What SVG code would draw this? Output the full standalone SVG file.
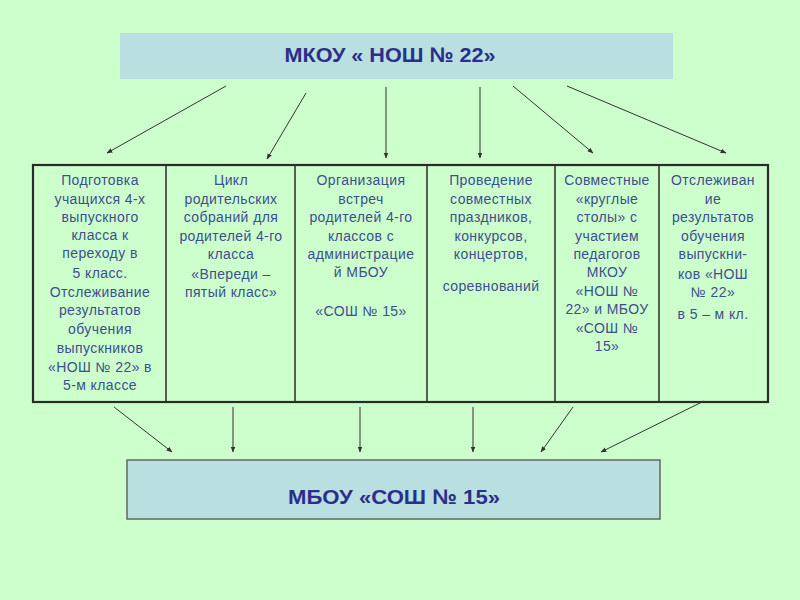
<svg xmlns="http://www.w3.org/2000/svg" width="800" height="600" viewBox="0 0 800 600">
<defs>
<marker id="ah" viewBox="0 0 10 10" refX="9" refY="5" markerWidth="6" markerHeight="6" orient="auto" markerUnits="userSpaceOnUse">
<path d="M0,1 L10,5 L0,9 z" fill="#333"/>
</marker>
<style>
.box{fill:#b9dfe0;}
.title{font-family:"Liberation Sans",Arial,sans-serif;font-weight:bold;font-size:21px;fill:#2b2f8c;text-anchor:middle;}
.cell{font-family:"Liberation Sans",Arial,sans-serif;font-size:14px;letter-spacing:0.4px;fill:#3d4e8e;text-anchor:middle;}
.conn line{stroke:#333;stroke-width:1;marker-end:url(#ah);}
.grid{stroke:#2a2a2a;fill:none;}
</style>
</defs>
<rect width="800" height="600" fill="#ccffcc"/>

<g id="top">
<rect class="box" x="120" y="33" width="553" height="46"/>
<text class="title" x="390" y="62" textLength="211" lengthAdjust="spacingAndGlyphs">МКОУ « НОШ № 22»</text>
</g>

<g id="bottom">
<rect class="box" x="127" y="460" width="533" height="59" stroke="#666" stroke-width="1.5"/>
<text class="title" x="394" y="504" textLength="212" lengthAdjust="spacingAndGlyphs">МБОУ «СОШ № 15»</text>
</g>

<g id="table">
<rect class="grid" x="33" y="165" width="735" height="237" stroke-width="2.2"/>
<line class="grid" x1="166" y1="165" x2="166" y2="402" stroke-width="1.5"/>
<line class="grid" x1="295" y1="165" x2="295" y2="402" stroke-width="1.5"/>
<line class="grid" x1="427" y1="165" x2="427" y2="402" stroke-width="1.5"/>
<line class="grid" x1="555" y1="165" x2="555" y2="402" stroke-width="1.5"/>
<line class="grid" x1="659" y1="165" x2="659" y2="402" stroke-width="1.5"/>
</g>

<g id="cell1">
<text class="cell" x="100" y="185">Подготовка</text>
<text class="cell" x="100" y="204">учащихся 4-х</text>
<text class="cell" x="100" y="222">выпускного</text>
<text class="cell" x="100" y="240">класса к</text>
<text class="cell" x="100" y="258">переходу в</text>
<text class="cell" x="100" y="278">5 класс.</text>
<text class="cell" x="100" y="297">Отслеживание</text>
<text class="cell" x="100" y="315">результатов</text>
<text class="cell" x="100" y="334">обучения</text>
<text class="cell" x="100" y="353">выпускников</text>
<text class="cell" x="100" y="372">«НОШ № 22» в</text>
<text class="cell" x="100" y="390">5-м классе</text>
</g>

<g id="cell2">
<text class="cell" x="231" y="185">Цикл</text>
<text class="cell" x="231" y="204">родительских</text>
<text class="cell" x="231" y="222">собраний для</text>
<text class="cell" x="231" y="241">родителей 4-го</text>
<text class="cell" x="231" y="259">класса</text>
<text class="cell" x="231" y="279">«Впереди –</text>
<text class="cell" x="231" y="297">пятый класс»</text>
</g>

<g id="cell3">
<text class="cell" x="361" y="185">Организация</text>
<text class="cell" x="361" y="204">встреч</text>
<text class="cell" x="361" y="222">родителей 4-го</text>
<text class="cell" x="361" y="241">классов с</text>
<text class="cell" x="361" y="259">администрацие</text>
<text class="cell" x="361" y="277">й МБОУ</text>
<text class="cell" x="361" y="316">«СОШ № 15»</text>
</g>

<g id="cell4">
<text class="cell" x="491" y="185">Проведение</text>
<text class="cell" x="491" y="204">совместных</text>
<text class="cell" x="491" y="222">праздников,</text>
<text class="cell" x="491" y="241">конкурсов,</text>
<text class="cell" x="491" y="259">концертов,</text>
<text class="cell" x="491" y="291">соревнований</text>
</g>

<g id="cell5">
<text class="cell" x="607" y="185">Совместные</text>
<text class="cell" x="607" y="204">«круглые</text>
<text class="cell" x="607" y="222">столы»  с</text>
<text class="cell" x="607" y="241">участием</text>
<text class="cell" x="607" y="259">педагогов</text>
<text class="cell" x="607" y="277">МКОУ</text>
<text class="cell" x="607" y="296">«НОШ №</text>
<text class="cell" x="607" y="314">22» и МБОУ</text>
<text class="cell" x="607" y="333">«СОШ №</text>
<text class="cell" x="607" y="351">15»</text>
</g>

<g id="cell6">
<text class="cell" x="713" y="185">Отслеживан</text>
<text class="cell" x="713" y="204">ие</text>
<text class="cell" x="713" y="222">результатов</text>
<text class="cell" x="713" y="241">обучения</text>
<text class="cell" x="713" y="259">выпускни-</text>
<text class="cell" x="713" y="279">ков «НОШ</text>
<text class="cell" x="713" y="297">№ 22»</text>
<text class="cell" x="713" y="319">в 5 – м кл.</text>
</g>

<g id="connectors" class="conn">
<line x1="226" y1="86" x2="107" y2="153"/>
<line x1="306" y1="93" x2="267" y2="159"/>
<line x1="386" y1="87" x2="386" y2="158"/>
<line x1="480" y1="87" x2="480" y2="158"/>
<line x1="513" y1="86" x2="593" y2="153"/>
<line x1="567" y1="86" x2="726" y2="153"/>
<line x1="114" y1="407" x2="172" y2="452"/>
<line x1="233" y1="407" x2="233" y2="452"/>
<line x1="360" y1="407" x2="360" y2="452"/>
<line x1="473" y1="407" x2="473" y2="452"/>
<line x1="573" y1="407" x2="541" y2="452"/>
<line x1="704" y1="401" x2="601" y2="452"/>
</g>
</svg>
